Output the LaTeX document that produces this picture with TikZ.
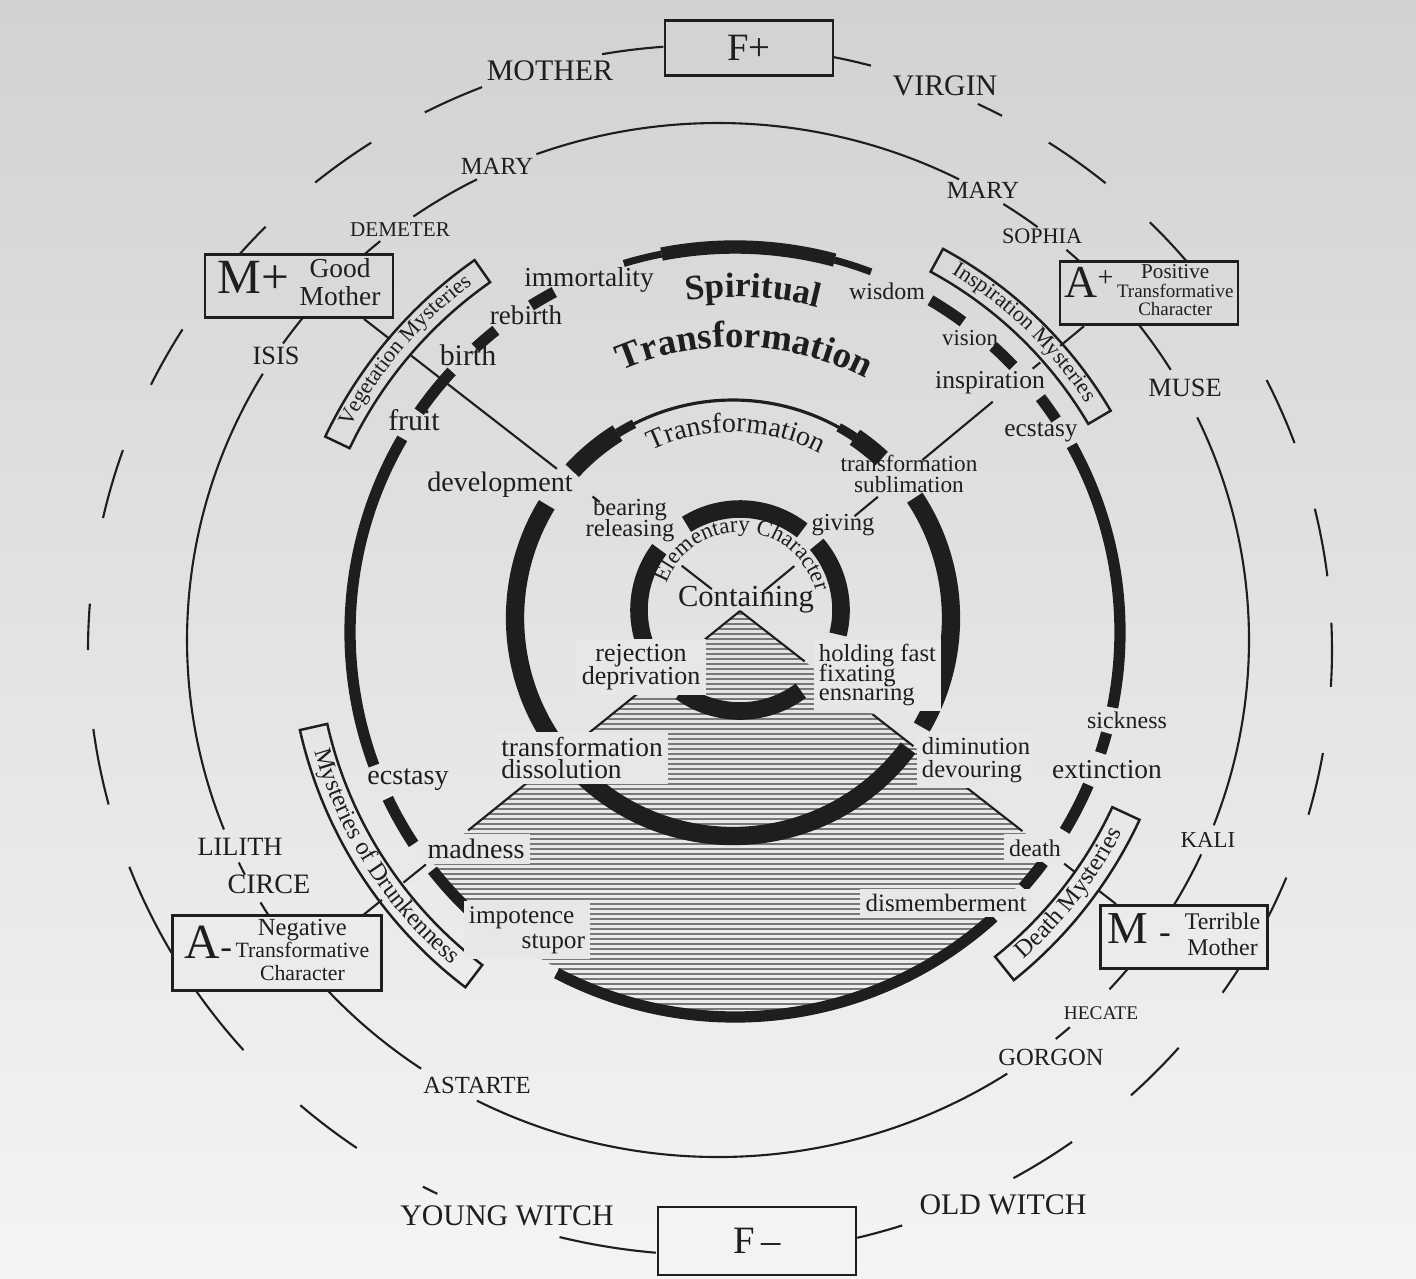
\documentclass[tikz,border=0pt]{standalone}
\usepackage{fontspec}
\setmainfont{Liberation Serif}
\usetikzlibrary{calc,decorations.text}

\definecolor{ink}{RGB}{30,30,30}
\definecolor{papertop}{RGB}{210,210,210}
\definecolor{paperbot}{RGB}{244,244,244}
\colorlet{paper}{paperbot!62!papertop}
\definecolor{hatchgray}{RGB}{120,120,120}

\newcommand{\fsz}[1]{\fontsize{#1}{#1}\selectfont}
\newcommand{\fss}[2]{\fontsize{#1}{#2}\selectfont}
\newcommand{\fsl}[2]{\fontsize{#1}{#2}\selectfont\lineskiplimit=-100pt}

\pgfdeclarelayer{back}
\pgfsetlayers{back,main}

\begin{document}
\begin{tikzpicture}[x=0.01cm, y=-0.01cm,
  thinring/.style={ink, line width=0.6pt},
  spiritring/.style={ink, line width=3.2pt},
  transring/.style={ink, line width=5.2pt},
  elemring/.style={ink, line width=5pt},
  xline/.style={ink, line width=0.6pt},
  band/.style={draw=ink, line width=0.7pt},
  hatchline/.style={hatchgray, line width=0.35pt},
  bigbox/.style={draw=ink, line width=0.8pt, inner sep=1pt, text=ink},
  outname/.style={text=ink, font=\fsz{8.5}, inner sep=0pt},
  godname/.style={text=ink, font=\fsz{7}, inner sep=0pt},
  lab/.style={text=ink, font=\fsz{8}, inner sep=1pt, align=center},
  hlab/.style={lab, fill=paper, inner sep=1.5pt},
  arctext/.style={decorate, decoration={text along path, text align=center, text color=ink}},
  ]
  \useasboundingbox (0,0) rectangle (1416,1278);

  % the six boxes
  \node[bigbox, fill=paperbot!4!papertop, minimum width=1.68cm, minimum height=0.55cm] (fplus) at (749,48) {\fsz{11}F+};
  \node[bigbox, fill=paperbot!97!papertop, minimum width=1.98cm, minimum height=0.68cm] (fminus) at (757,1241) {\fsz{11}F\,\textendash};
  \node[bigbox, fill=paperbot!22!papertop, minimum width=1.88cm, minimum height=0.63cm] (mplus) at (299,286)
    {\fsz{14}M+\hspace{3pt}\fss{7.8}{7.8}\begin{tabular}{@{}c@{}}Good\\Mother\end{tabular}};
  \node[bigbox, fill=paperbot!23!papertop, minimum width=1.78cm, minimum height=0.57cm] (aplus) at (1149,293)
    {\fsz{13}A\raisebox{3pt}{\fsz{8}+}\hspace{1pt}\fss{5.4}{5.1}\begin{tabular}{@{}c@{}}{\fsz{6}Positive}\\Transformative\\Character\end{tabular}};
  \node[bigbox, fill=paperbot!75!papertop, minimum width=2.09cm, minimum height=0.70cm] (aminus) at (277,953)
    {\fsz{14}A\fsz{10}-\hspace{1pt}\fss{6.2}{6.3}\begin{tabular}{@{}c@{}}{\fsz{7}Negative}\\Transformative\\Character\end{tabular}};
  \node[bigbox, fill=paperbot!73!papertop, minimum width=1.67cm, minimum height=0.63cm] (mminus) at (1184,937)
    {\fsz{13}M\hspace{3pt}\fsz{10}-\hspace{4pt}\fss{6.8}{7.6}\begin{tabular}{@{}c@{}}Terrible\\Mother\end{tabular}};

  \coordinate (outer) at (710,650);
  \coordinate (mid) at (718,640);
  \coordinate (spirit) at (735,632);
  \coordinate (trans) at (733,618);
  \coordinate (elem) at (740,610);
  \coordinate (xc) at (740,611);
  \coordinate (ulend) at ($(mplus.south west)!0.84!(mplus.south east)$);
  \coordinate (urend) at ($(aplus.south west)!0.14!(aplus.south east)$);
  \coordinate (llend) at ($(aminus.north west)!0.91!(aminus.north east)$);
  \coordinate (lrend) at ($(mminus.north west)!0.10!(mminus.north east)$);

  \begin{pgfonlayer}{back}
    \shade[top color=papertop, bottom color=paperbot] (0,0) rectangle (1416,1278);
    \begin{scope}
      \clip (xc) -- (llend) -- ++(0,180) -- ($(lrend)+(0,200)$) -- (lrend) -- cycle;
      \clip (spirit) circle[radius=380];
      \foreach \y in {614,619,...,1014}
        \draw[hatchline] (340,\y) -- (1130,\y);
    \end{scope}

    % spiritual ring
    \foreach \a/\b in {-118/-122, -128.4/-132.4, -137.4/-145.1, -149.8/-200.3, -205.6/-213.4,
                       -218.2/-226.4, -242.4/-312.2, -318.4/-323.2, -328.9/-336.6, -341.7/-344.8,
                       -348.7/-389, -33.5/-37.5, -43.7/-47.9, -53.7/-59.5}
      \draw[spiritring] (spirit) ++(\a:385) arc[start angle=\a, end angle=\b, radius=385];
    \draw[spiritring, line width=3.8pt] (spirit) ++(-75:385) arc[start angle=-75, end angle=-101, radius=385];
    \foreach \a/\b in {-69.3/-75, -101/-106.8}
      \draw[spiritring, line width=2pt] (spirit) ++(\a:385) arc[start angle=\a, end angle=\b, radius=385];

    % transformation ring
    \draw[thinring, line width=0.9pt] (trans) ++(-47:218) arc[start angle=-47, end angle=-137.5, radius=218];
    \foreach \a/\b in {-122/-137.5, -47/-56, 30/-33.5, -226.5/-323.4, -148.7/-213.6}
      \draw[transring] (trans) ++(\a:218) arc[start angle=\a, end angle=\b, radius=218];
    \foreach \a/\b in {-117/-122, -56/-61}
      \draw[transring, line width=2.6pt] (trans) ++(\a:218) arc[start angle=\a, end angle=\b, radius=218];

    % elementary ring
    \foreach \a/\b in {-52/-122, -143/-200, 14/-40.6, -234/-307}
      \draw[elemring] (elem) ++(\a:101) arc[start angle=\a, end angle=\b, radius=101];

    % outer dashed ring
    \foreach \a/\b in {-94.3/-100, -111.5/-117.3, -123/-129.4, -135.6/-139.2, -148/-154, -160.7/-167.4,
                       -175.6/-180, -187.5/-194.8, -201/-210, -214/-221.4, -228.8/-235.4, -242.5/-244,
                       -256/-265, -75/-78.6, -62/-64.5, -50.5/-57, -39.5/-45, -20/-26.5, -7/-13.5,
                       3.5/-2.6, 15.8/9.8, 26.4/22.1, 34.5/31.7, 47.4/41.1, 60.8/54.4, 76.3/72}
      \draw[thinring] (outer) ++(\a:622 and 605) arc[start angle=\a, end angle=\b, x radius=622, y radius=605];

    % goddess ring
    \foreach \a/\b in {-63/-110, -53/-57.5, -46.5/-49, -31.5/-37.9, 21/-25.5, 24.5/30.8, 39.4/42.5,
                       48.5/50.5, 57/117, -222.3/-236, -210.5/-212.5, -205.5/-207, -149/-201.5,
                       -141.5/-145, -129.5/-131.9, -117/-125}
      \draw[thinring] (mid) ++(\a:531 and 517) arc[start angle=\a, end angle=\b, x radius=531, y radius=517];
  \end{pgfonlayer}

  % the cross through the centre
  \foreach \a/\b in {0.075/0.155, 0.373/0.392, 0.487/0.875, 0.931/1}
    \draw[xline] ($(xc)!\a!(ulend)$) -- ($(xc)!\b!(ulend)$);
  \foreach \a/\b in {0.068/0.158, 0.333/0.401, 0.53/0.735, 0.851/0.873, 0.931/1}
    \draw[xline] ($(xc)!\a!(urend)$) -- ($(xc)!\b!(urend)$);
  \foreach \a/\b in {0/0.15, 0.273/0.405, 0.562/0.723, 0.835/0.895, 0.952/1}
    \draw[xline] ($(xc)!\a!(llend)$) -- ($(xc)!\b!(llend)$);
  \foreach \a/\b in {0/0.172, 0.352/0.461, 0.59/0.751, 0.862/0.89, 0.953/1}
    \draw[xline] ($(xc)!\a!(lrend)$) -- ($(xc)!\b!(lrend)$);

  % mysteries bands
  \draw[band] ($(spirit)+(-125:427)$) arc[start angle=-125, end angle=-154.5, radius=427]
    -- ($(spirit)+(-154.5:454)$) arc[start angle=-154.5, end angle=-125, radius=454] -- cycle;
  \draw[band] ($(spirit)+(-30.5:410)$) arc[start angle=-30.5, end angle=-61.5, radius=410]
    -- ($(spirit)+(-61.5:436)$) arc[start angle=-61.5, end angle=-30.5, radius=436] -- cycle;
  \draw[band] ($(spirit)+(-192.7:418)$) arc[start angle=-192.7, end angle=-232.8, radius=418]
    -- ($(spirit)+(-232.8:446)$) arc[start angle=-232.8, end angle=-192.7, radius=446] -- cycle;
  \draw[band] ($(spirit)+(51.3:416)$) arc[start angle=51.3, end angle=24.9, radius=416]
    -- ($(spirit)+(24.9:446)$) arc[start angle=24.9, end angle=51.3, radius=446] -- cycle;
  \path[arctext, decoration={text={|\fsz{6.3}|Vegetation Mysteries}}]
    (spirit) ++(-156:436) arc[start angle=-156, end angle=-123, radius=436];
  \path[arctext, decoration={text={|\fsz{6.3}|Inspiration Mysteries}}]
    (spirit) ++(-63:419) arc[start angle=-63, end angle=-29, radius=419];
  \path[arctext, decoration={text={|\fsz{7}|Mysteries of Drunkenness}}]
    (spirit) ++(-191:437) arc[start angle=-191, end angle=-234.5, radius=437];
  \path[arctext, decoration={text={|\fsz{7}|Death Mysteries}}]
    (spirit) ++(53:436) arc[start angle=53, end angle=23, radius=436];

  % curved titles
  \path[arctext, decoration={text={|\fsz{10}\bfseries|Spiritual}}]
    (spirit) ++(-118:335) arc[start angle=-118, end angle=-56, radius=335];
  \path[arctext, decoration={text={|\fsz{10.5}\bfseries|Transformation}}]
    (spirit) ++(-122:285) arc[start angle=-122, end angle=-54, radius=285];
  \path[arctext, decoration={text={|\fsz{8}|Transformation}}]
    (trans) ++(-124:186) arc[start angle=-124, end angle=-54, radius=186];
  \path[arctext, decoration={text={|\fsz{6.5}|Elementary Character}}]
    (elem) ++(-174:78) arc[start angle=-174, end angle=0, radius=78];

  % outer names
  \node[outname] (mother) at (550,71) {MOTHER};
  \node[outname] (virgin) at (945,86) {VIRGIN};
  \node[outname] (youngwitch) at (507,1216) {YOUNG WITCH};
  \node[outname] (oldwitch) at (1003,1205) {OLD WITCH};

  \node[godname] (maryl) at (497,166) {MARY};
  \node[godname, font=\fsz{6}] (demeter) at (400,230) {DEMETER};
  \node[godname, font=\fsz{7.5}] (isis) at (276,356) {ISIS};
  \node[godname] (maryr) at (983,190) {MARY};
  \node[godname, font=\fsz{6.3}] (sophia) at (1042,236) {SOPHIA};
  \node[godname, font=\fsz{7.5}] (muse) at (1185,388) {MUSE};
  \node[godname, font=\fsz{6.5}] (kali) at (1208,840) {KALI};
  \node[godname, font=\fsz{5.5}] (hecate) at (1101,1013) {HECATE};
  \node[godname] (gorgon) at (1051,1057) {GORGON};
  \node[godname] (astarte) at (477,1085) {ASTARTE};
  \node[godname, font=\fsz{8}] (circe) at (269,884) {CIRCE};
  \node[godname, font=\fsz{7.5}] (lilith) at (240,847) {LILITH};

  % spiritual ring words
  \node[lab, font=\fsz{7.8}] (immortality) at (589,280) {immortality};
  \node[lab, font=\fsz{7.7}] (rebirth) at (526,315) {rebirth};
  \node[lab, font=\fsz{8.5}] (birth) at (468,355) {birth};
  \node[lab, font=\fsz{8.5}] (fruit) at (414,420) {fruit};
  \node[lab] (ecstasyl) at (408,780) {ecstasy};
  \node[hlab] (madness) at (476,849) {madness};
  \node[hlab, font=\fsl{7.2}{7.2}, align=left] (impotence) at (527,930) {impotence\\\hspace*{15pt}stupor};
  \node[hlab, font=\fsz{7.1}] (dismemberment) at (946,903) {dismemberment};
  \node[hlab, font=\fsz{6.8}] (death) at (1035,848) {death};
  \node[lab, font=\fsz{7.8}] (extinction) at (1107,770) {extinction};
  \node[lab, font=\fsz{6.8}] (sickness) at (1127,720) {sickness};
  \node[lab, font=\fsz{7.2}] (ecstasyr) at (1041,432) {ecstasy};
  \node[lab, font=\fsz{7.3}] (inspiration) at (990,383) {inspiration};
  \node[lab, font=\fsz{6.5}] (vision) at (970,338) {vision};
  \node[lab, font=\fsz{6.8}] (wisdom) at (887,291) {wisdom};

  % words on the cross
  \node[lab, font=\fsz{8.7}] (containing) at (746,600) {Containing};
  \node[lab, font=\fsl{7}{6}] (bearing) at (630,520) {bearing\\releasing};
  \node[lab, font=\fsz{7}] (giving) at (843,525) {giving};
  \node[lab] (development) at (500,485) {development};
  \node[lab, font=\fsl{6.6}{5.8}] (sublimation) at (909,474) {transformation\\sublimation};
  \node[hlab, font=\fsl{7.4}{6.4}] (rejection) at (641,667) {rejection\\deprivation};
  \node[hlab, font=\fsl{7}{5.6}, align=left, anchor=west] (holding) at (813,675) {holding fast\\fixating\\ensnaring};
  \node[hlab, font=\fsl{7.8}{6.4}, align=left] (dissolution) at (582,758) {transformation\\dissolution};
  \node[hlab, font=\fsl{7}{6.4}, align=left, anchor=west] (diminution) at (916,760) {diminution\\devouring};
\end{tikzpicture}
\end{document}
